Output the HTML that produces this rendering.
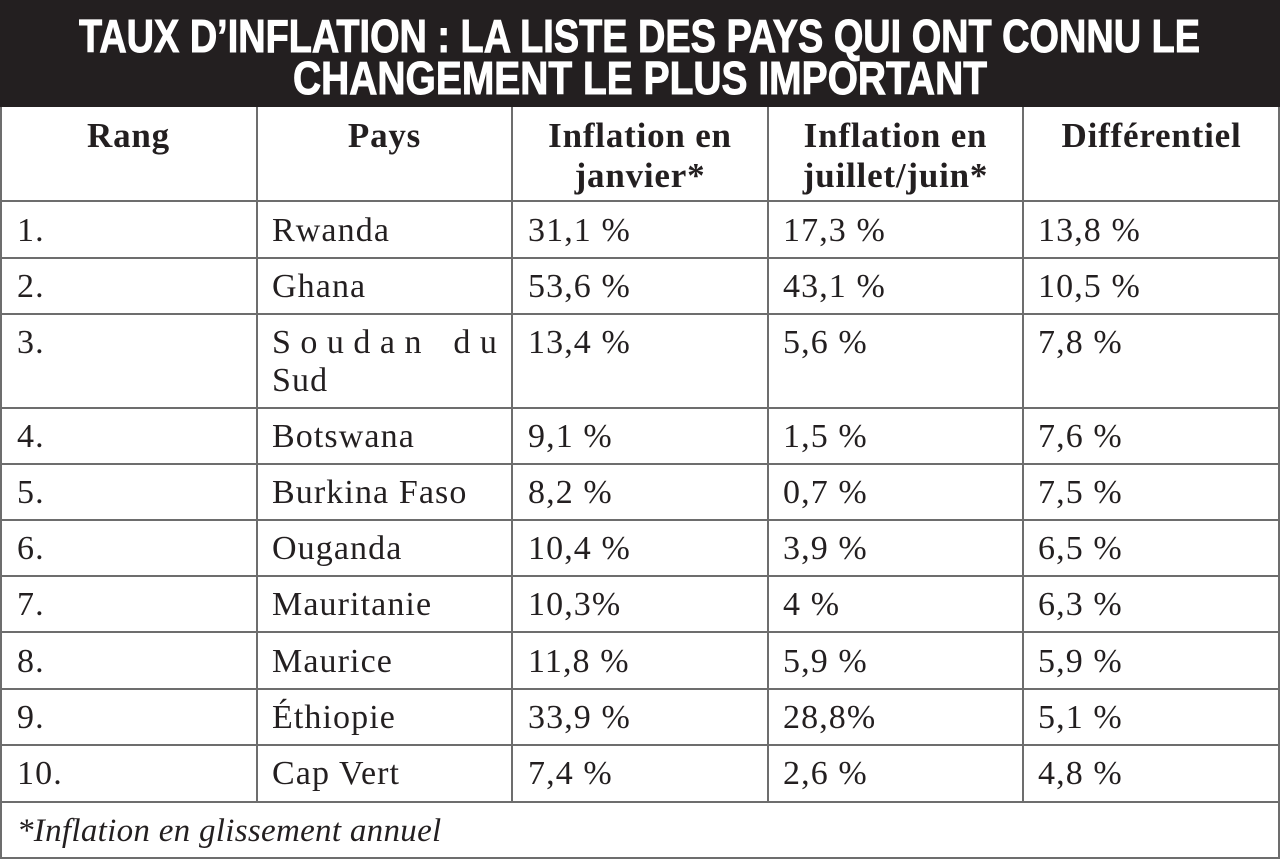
<!DOCTYPE html>
<html><head><meta charset="utf-8"><style>
body{margin:0;width:1280px;height:860px;background:#fff;position:relative;overflow:hidden;font-family:"Liberation Serif",serif;color:#231f20}
.hl{position:absolute;left:0;width:1280px;height:2px;background:#6d6d6d}
.vl{position:absolute;top:107px;width:2px;background:#6d6d6d}
.t{position:absolute;font-size:34px;line-height:38px;white-space:nowrap;letter-spacing:1.1px}
.th{position:absolute;font-size:35px;font-weight:bold;line-height:40px;text-align:center;letter-spacing:0.8px}
</style></head><body>
<svg style="position:absolute;left:0;top:0" width="1280" height="107">
<rect width="1280" height="107" fill="#231f20"/>
<g fill="#fff" stroke="#fff" stroke-width="1" font-family="Liberation Sans Narrow, Liberation Sans, sans-serif" font-weight="bold" font-size="46">
<text x="79" y="52" textLength="1121" lengthAdjust="spacingAndGlyphs">TAUX D’INFLATION : LA LISTE DES PAYS QUI ONT CONNU LE</text>
<text x="293" y="94" textLength="694" lengthAdjust="spacingAndGlyphs">CHANGEMENT LE PLUS IMPORTANT</text>
</g>
</svg>
<div class="hl" style="top:200px"></div>
<div class="hl" style="top:257px"></div>
<div class="hl" style="top:313px"></div>
<div class="hl" style="top:407px"></div>
<div class="hl" style="top:463px"></div>
<div class="hl" style="top:519px"></div>
<div class="hl" style="top:575px"></div>
<div class="hl" style="top:631px"></div>
<div class="hl" style="top:688px"></div>
<div class="hl" style="top:744px"></div>
<div class="hl" style="top:801px"></div>
<div class="hl" style="top:857px"></div>
<div class="vl" style="left:0;height:752px"></div>
<div class="vl" style="left:1278px;height:752px"></div>
<div class="vl" style="left:256px;height:695px"></div>
<div class="vl" style="left:511px;height:695px"></div>
<div class="vl" style="left:767px;height:695px"></div>
<div class="vl" style="left:1022px;height:695px"></div>

<div class="th" style="left:0;width:257px;top:116px">Rang</div>
<div class="th" style="left:257px;width:255px;top:116px">Pays</div>
<div class="th" style="left:512px;width:256px;top:116px">Inflation en<br>janvier*</div>
<div class="th" style="left:768px;width:255px;top:116px">Inflation en<br>juillet/juin*</div>
<div class="th" style="left:1023px;width:257px;top:116px">Différentiel</div>

<div id="rows"></div>
<script>
var d=[["1.","Rwanda","31,1 %","17,3 %","13,8 %",212],["2.","Ghana","53,6 %","43,1 %","10,5 %",268],["3.","","13,4 %","5,6 %","7,8 %",324],["4.","Botswana","9,1 %","1,5 %","7,6 %",418],["5.","Burkina Faso","8,2 %","0,7 %","7,5 %",474],["6.","Ouganda","10,4 %","3,9 %","6,5 %",530],["7.","Mauritanie","10,3%","4 %","6,3 %",586],["8.","Maurice","11,8 %","5,9 %","5,9 %",643],["9.","Éthiopie","33,9 %","28,8%","5,1 %",699],["10.","Cap Vert","7,4 %","2,6 %","4,8 %",755]];
var xs=[17,272,528,783,1038],h="";
d.forEach(function(r){for(var i=0;i<5;i++){if(r[i])h+='<div class="t" style="left:'+xs[i]+'px;top:'+r[5]+'px">'+r[i]+'</div>';}});
document.getElementById("rows").innerHTML=h;
</script>
<div class="t" style="left:272px;top:324px;width:226px;display:flex;justify-content:space-between"><span>S</span><span>o</span><span>u</span><span>d</span><span>a</span><span>n</span><span style="width:14px"></span><span>d</span><span>u</span></div>
<div class="t" style="left:272px;top:362px">Sud</div>
<div class="t" style="left:17px;top:812px;font-style:italic;font-size:33px;letter-spacing:0.3px">*Inflation en glissement annuel</div>
</body></html>
